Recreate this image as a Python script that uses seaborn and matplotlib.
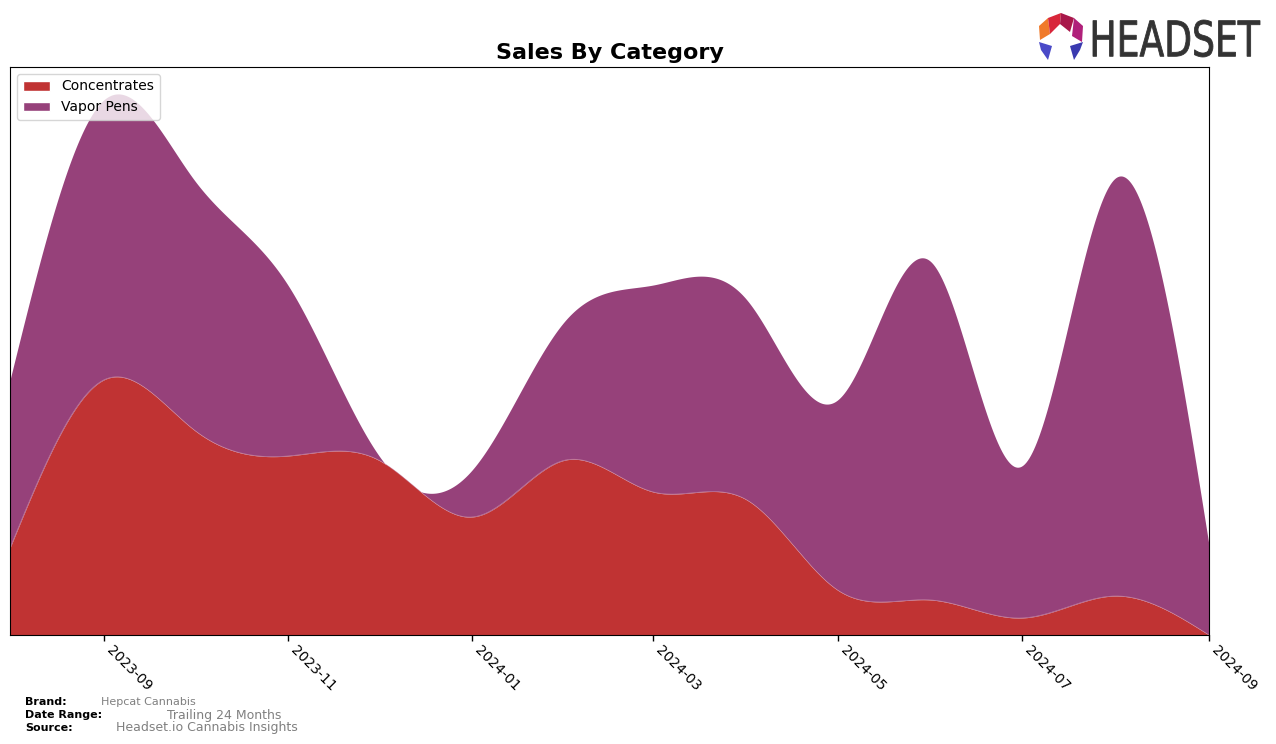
import numpy as np
import pandas as pd
import matplotlib
matplotlib.use("Agg")
import matplotlib.pyplot as plt
import matplotlib.dates as mdates
from matplotlib.patches import Patch, Polygon, PathPatch
from matplotlib.textpath import TextPath
from matplotlib.font_manager import FontProperties
from matplotlib.transforms import Affine2D
import seaborn as sns

# ---- data (monthly sales, arbitrary units) ----
months = ["2023-08", "2023-09", "2023-10", "2023-11", "2023-12", "2024-01", "2024-02",
          "2024-03", "2024-04", "2024-05", "2024-06", "2024-07", "2024-08", "2024-09"]
concentrates = [87, 255, 205, 179, 175, 118, 175, 143, 135, 45, 35, 17, 39, 0]
vapor_pens = [168, 280, 250, 171, 5, 47, 140, 207, 200, 190, 338, 152, 418, 90]
categories = ["Concentrates", "Vapor Pens"]
colors = ["#C03333", "#96417A"]
tick_labels = ["2023-09", "2023-11", "2024-01", "2024-03", "2024-05", "2024-07", "2024-09"]

sns.set_style("white")
plt.rcParams['font.family'] = ['DejaVu Sans']
plt.rcParams['text.color'] = 'black'
plt.rcParams['xtick.color'] = 'black'
plt.rcParams['axes.labelcolor'] = 'black'


def natural_spline(x, y, xs):
    x = np.asarray(x, float); y = np.asarray(y, float)
    n = len(x)
    h = np.diff(x)
    A = np.zeros((n, n)); b = np.zeros(n)
    A[0, 0] = 1; A[-1, -1] = 1
    for i in range(1, n - 1):
        A[i, i - 1] = h[i - 1]
        A[i, i] = 2 * (h[i - 1] + h[i])
        A[i, i + 1] = h[i]
        b[i] = 3 * ((y[i + 1] - y[i]) / h[i] - (y[i] - y[i - 1]) / h[i - 1])
    c = np.linalg.solve(A, b)
    idx = np.clip(np.searchsorted(x, xs) - 1, 0, n - 2)
    dx = xs - x[idx]
    bb = (y[idx + 1] - y[idx]) / h[idx] - h[idx] * (2 * c[idx] + c[idx + 1]) / 3
    dd = (c[idx + 1] - c[idx]) / (3 * h[idx])
    return y[idx] + bb * dx + c[idx] * dx ** 2 + dd * dx ** 3


dates = pd.to_datetime(months)
xnum = mdates.date2num(dates)
xs = np.linspace(xnum[0], xnum[-1], 800)
conc_s = natural_spline(xnum, concentrates, xs)
total = np.array(concentrates) + np.array(vapor_pens)
total_s = natural_spline(xnum, total, xs)

fig = plt.figure(figsize=(12.76, 7.44), dpi=100)
ax = fig.add_axes([10 / 1276, (744 - 635) / 744, 1199 / 1276, 568 / 744])

df = pd.DataFrame({"date": mdates.num2date(xs), "conc": conc_s, "total": total_s})
sns.lineplot(data=df, x="date", y="total", ax=ax, color=colors[1], linewidth=0)
ax.fill_between(xs, conc_s, total_s, color=colors[1], linewidth=0)
ax.fill_between(xs, 0, conc_s, color=colors[0], linewidth=0)
ax.plot(xs, conc_s, color="#d9a0b8", linewidth=0.5, alpha=0.6)

ax.set_xlim(xnum[0], xnum[-1])
ax.set_ylim(0, 568)
ax.set_yticks([])
ax.set_xlabel("")
ax.set_ylabel("")
tick_dates = mdates.date2num(pd.to_datetime(tick_labels))
ax.set_xticks(tick_dates)
ax.set_xticklabels(tick_labels, rotation=-45, ha="left", fontsize=10, color="black")
ax.tick_params(axis="x", bottom=True, length=4, width=1, color="black", pad=2)
for s in ax.spines.values():
    s.set_visible(True)
    s.set_color("black")
    s.set_linewidth(0.8)

ax.set_title("Sales By Category", fontsize=16, fontweight="bold", pad=6, color="black")

handles = [Patch(facecolor=colors[0], label=categories[0]),
           Patch(facecolor=colors[1], label=categories[1])]
leg = ax.legend(handles=handles, loc="upper left", fontsize=10, framealpha=0.8,
                borderaxespad=0.5, handlelength=2)
for t in leg.get_texts():
    t.set_color("black")

# footer
fig.text(25 / 1276, 1 - 702 / 744, "Brand:", fontsize=8, fontweight="bold", va="center")
fig.text(101 / 1276, 1 - 702 / 744, "Hepcat Cannabis", fontsize=8, color="gray", va="center")
fig.text(25 / 1276, 1 - 715 / 744, "Date Range:", fontsize=8, fontweight="bold", va="center")
fig.text(167 / 1276, 1 - 715 / 744, "Trailing 24 Months", fontsize=9, color="gray", va="center")
fig.text(25 / 1276, 1 - 728 / 744, "Source:", fontsize=8, fontweight="bold", va="center")
fig.text(116 / 1276, 1 - 728 / 744, "Headset.io Cannabis Insights", fontsize=9, color="gray", va="center")

# logo: wordmark drawn as a path squeezed into its box (pixel coords)
wax = fig.add_axes([1030 / 1276, 1 - 66 / 744, 246 / 1276, 60 / 744])
wax.set_xlim(1030, 1276); wax.set_ylim(744 - 66, 744 - 6); wax.axis("off")
tp = TextPath((0, 0), "HEADSET", size=100, prop=FontProperties(family="DejaVu Sans"))
ext = tp.get_extents()
x0, x1, y0, y1 = 1093, 1260, 744 - 57, 744 - 20
tr = Affine2D().translate(-ext.x0, -ext.y0).scale((x1 - x0) / ext.width, (y1 - y0) / ext.height).translate(x0, y0)
wax.add_patch(PathPatch(tr.transform_path(tp), facecolor="#333333", edgecolor="#333333", linewidth=0.6))

lax = fig.add_axes([1036 / 1276, 1 - 62 / 744, 50 / 1276, 50 / 744])
lax.set_xlim(0, 50); lax.set_ylim(0, 50); lax.axis("off")
polys = [
    ([(3, 36), (12, 44), (14, 28), (4, 22)], "#F07A2A"),
    ([(12, 44), (25, 49), (24, 38), (14, 28)], "#D8263A"),
    ([(25, 49), (38, 44), (34, 30), (24, 38)], "#A8184A"),
    ([(38, 44), (47, 36), (46, 20), (36, 26)], "#B0207A"),
    ([(3, 20), (16, 16), (12, 2), (5, 12)], "#4A4AC8"),
    ([(34, 16), (47, 20), (44, 12), (38, 2)], "#3A3AB0"),
]
for pts, c in polys:
    lax.add_patch(Polygon(pts, closed=True, facecolor=c, edgecolor="none"))

fig.savefig("out.png", dpi=100)
